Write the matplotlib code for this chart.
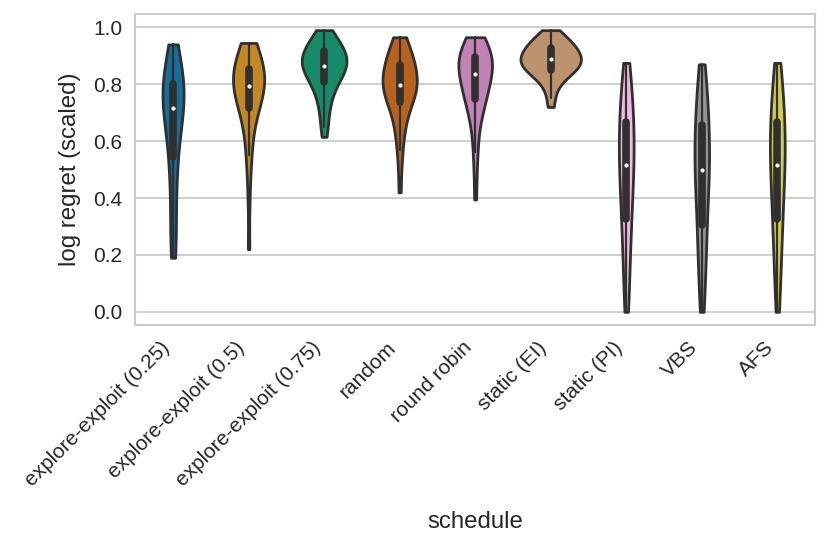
#! /usr/bin/env python3

import matplotlib
matplotlib.use("Agg")
import matplotlib.pyplot as plt
import pandas as pd
import seaborn as sns

"""
Valeurs lues sur le graphe (regret logarithmique normalisé par stratégie).
"""

schedules = [
    "explore-exploit (0.25)", "explore-exploit (0.5)", "explore-exploit (0.75)",
    "random", "round robin", "static (EI)", "static (PI)", "VBS", "AFS",
]

ee_025 = [0.19, 0.21, 0.24, 0.28, 0.33, 0.38, 0.42, 0.46, 0.50, 0.53,
          0.55, 0.58, 0.61, 0.63, 0.65, 0.67, 0.68, 0.69, 0.70, 0.71,
          0.72, 0.73, 0.74, 0.75, 0.76, 0.77, 0.78, 0.79, 0.79, 0.80,
          0.81, 0.82, 0.83, 0.84, 0.85, 0.86, 0.88, 0.90, 0.92, 0.94]
ee_05 = [0.22, 0.40, 0.50, 0.55, 0.58, 0.62, 0.65, 0.68, 0.70, 0.71,
         0.72, 0.73, 0.74, 0.75, 0.76, 0.77, 0.78, 0.78, 0.79, 0.79,
         0.80, 0.81, 0.81, 0.82, 0.83, 0.83, 0.84, 0.84, 0.85, 0.85,
         0.86, 0.87, 0.88, 0.89, 0.90, 0.91, 0.92, 0.93, 0.94, 0.945]
ee_075 = [0.615, 0.65, 0.68, 0.71, 0.73, 0.75, 0.77, 0.78, 0.79, 0.80,
          0.81, 0.82, 0.83, 0.83, 0.84, 0.85, 0.85, 0.86, 0.86, 0.86,
          0.87, 0.87, 0.88, 0.88, 0.89, 0.89, 0.90, 0.90, 0.91, 0.915,
          0.92, 0.925, 0.93, 0.935, 0.94, 0.95, 0.96, 0.97, 0.98, 0.99]
rand = [0.42, 0.52, 0.57, 0.61, 0.64, 0.66, 0.68, 0.70, 0.72, 0.73,
        0.74, 0.75, 0.76, 0.76, 0.77, 0.78, 0.78, 0.79, 0.79, 0.795,
        0.80, 0.81, 0.82, 0.82, 0.83, 0.84, 0.85, 0.85, 0.86, 0.865,
        0.87, 0.88, 0.89, 0.90, 0.91, 0.92, 0.93, 0.94, 0.95, 0.965]
robin = [0.395, 0.50, 0.56, 0.61, 0.65, 0.68, 0.70, 0.72, 0.73, 0.74,
         0.75, 0.76, 0.77, 0.78, 0.79, 0.80, 0.81, 0.82, 0.82, 0.83,
         0.84, 0.85, 0.85, 0.86, 0.87, 0.87, 0.88, 0.88, 0.89, 0.895,
         0.90, 0.905, 0.91, 0.92, 0.925, 0.93, 0.94, 0.95, 0.96, 0.965]
static_ei = [0.72, 0.75, 0.78, 0.80, 0.81, 0.82, 0.83, 0.835, 0.84, 0.845,
             0.85, 0.855, 0.86, 0.865, 0.865, 0.87, 0.875, 0.875, 0.88, 0.885,
             0.89, 0.89, 0.895, 0.90, 0.905, 0.91, 0.91, 0.915, 0.92, 0.925,
             0.93, 0.935, 0.94, 0.945, 0.95, 0.955, 0.96, 0.97, 0.98, 0.99]
static_pi = [0.0, 0.04, 0.08, 0.12, 0.16, 0.20, 0.24, 0.27, 0.29, 0.31,
             0.33, 0.36, 0.39, 0.41, 0.43, 0.45, 0.47, 0.48, 0.50, 0.51,
             0.52, 0.54, 0.56, 0.58, 0.60, 0.61, 0.62, 0.64, 0.65, 0.665,
             0.68, 0.70, 0.72, 0.74, 0.76, 0.78, 0.80, 0.82, 0.85, 0.875]
vbs = [0.0, 0.04, 0.08, 0.12, 0.15, 0.19, 0.22, 0.25, 0.27, 0.29,
       0.31, 0.34, 0.37, 0.40, 0.42, 0.44, 0.46, 0.47, 0.48, 0.495,
       0.50, 0.52, 0.54, 0.56, 0.58, 0.60, 0.61, 0.62, 0.64, 0.65,
       0.67, 0.69, 0.71, 0.73, 0.75, 0.77, 0.79, 0.82, 0.85, 0.87]
afs = [0.0, 0.05, 0.09, 0.13, 0.17, 0.21, 0.24, 0.27, 0.29, 0.31,
       0.33, 0.36, 0.38, 0.41, 0.43, 0.45, 0.47, 0.49, 0.50, 0.51,
       0.52, 0.54, 0.56, 0.58, 0.59, 0.61, 0.62, 0.64, 0.65, 0.665,
       0.68, 0.70, 0.72, 0.74, 0.76, 0.78, 0.80, 0.83, 0.85, 0.875]

values = [ee_025, ee_05, ee_075, rand, robin, static_ei, static_pi, vbs, afs]

rows = [(s, v) for s, vals in zip(schedules, values) for v in vals]
df = pd.DataFrame(rows, columns=["schedule", "log regret (scaled)"])

"""
Tracé.
"""

sns.set_theme(style="whitegrid")
plt.rcParams["font.family"] = ["Liberation Sans", "DejaVu Sans"]

fig = plt.figure(figsize=(8.3, 5.47), dpi=100)
ax = fig.add_axes([0.163, 0.406, 0.819, 0.568])

sns.violinplot(data=df, x="schedule", y="log regret (scaled)",
               hue="schedule", palette="colorblind", legend=False,
               cut=0, linewidth=2, common_norm=True,
               inner_kws=dict(box_width=5.5, whis_width=1.6, marker="o"),
               ax=ax)

# point blanc de la médiane, plus petit
for line in ax.lines:
    if line.get_marker() == "o":
        line.set_markersize(3)
        line.set_markeredgewidth(0)
        line.set_markerfacecolor("white")

ax.set_ylim(-0.046, 1.046)
ax.set_yticks([0.0, 0.2, 0.4, 0.6, 0.8, 1.0])
ax.set_xticks(range(len(schedules)))
ax.set_xticklabels(schedules, rotation=45, ha="right")
ax.tick_params(labelsize=15)
ax.set_xlabel("schedule", fontsize=17.3, labelpad=15)
ax.set_ylabel("log regret (scaled)", fontsize=17.3, labelpad=8.5)
ax.grid(axis="y", linewidth=1.3)
for s in ax.spines.values():
    s.set_linewidth(1.5)

fig.savefig("out.png", dpi=100)
